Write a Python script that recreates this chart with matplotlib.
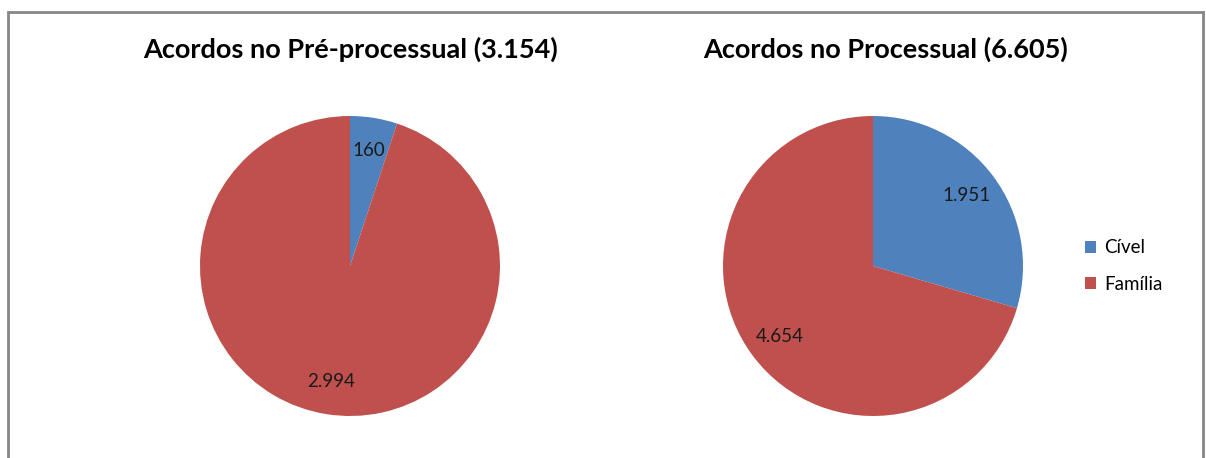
import matplotlib.pyplot as plt
from matplotlib.patches import Rectangle

# dados dos acordos
categorias = ["Cível", "Família"]
pre_processual = [160, 2994]
processual = [1951, 4654]
titulos = ["Acordos no Pré-processual (3.154)", "Acordos no Processual (6.605)"]
cores = ["#4F81BD", "#C0504D"]

plt.rcParams['font.family'] = ['Lato', 'DejaVu Sans']


def fmt_milhar(v):
    return f"{v:,}".replace(",", ".")


W, H = 1206, 458
fig = plt.figure(figsize=(W / 100, H / 100), dpi=100)

# moldura cinza
fig.patches.append(Rectangle((8 / W, -0.1), (1203 - 8) / W, 1.1 - 12 / H,
                             transform=fig.transFigure, fill=False,
                             edgecolor="#868686", linewidth=2))

centros = [(350, 266), (873, 266)]
pos_titulos = [351, 886]
raio = 150
eixos = []
for (cx, cy), tx, valores, titulo in zip(centros, pos_titulos,
                                         [pre_processual, processual], titulos):
    ax = fig.add_axes([(cx - raio) / W, (H - cy - raio) / H, 2 * raio / W, 2 * raio / H])
    wedges, textos = ax.pie(valores, colors=cores, startangle=90, counterclock=False,
                            radius=1, labels=[fmt_milhar(v) for v in valores],
                            labeldistance=0.78,
                            wedgeprops=dict(linewidth=0),
                            textprops=dict(fontsize=13.5, color="#1a1a1a",
                                           ha="center", va="center"))
    for t in textos:
        t.set_horizontalalignment("center")
    ax.set_xlim(-1, 1)
    ax.set_ylim(-1, 1)
    ax.set_aspect("equal")
    fig.text(tx / W, 1 - 49 / H, titulo, ha="center", va="center",
             fontsize=19.5, fontweight="bold", color="black")
    eixos.append(wedges)

fig.legend(eixos[1], categorias, loc="center left",
           bbox_to_anchor=(1068 / W, 1 - 266 / H), frameon=False,
           fontsize=13.5, handlelength=0.6, handleheight=0.6,
           handletextpad=0.45, labelspacing=1.05)

fig.savefig("out.png", dpi=100)
